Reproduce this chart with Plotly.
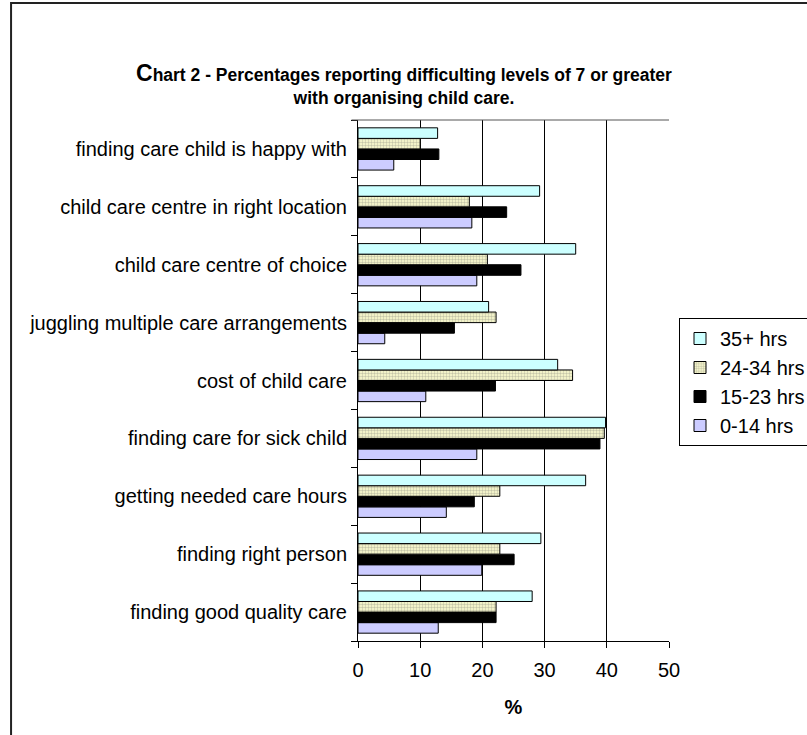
import plotly.graph_objects as go

categories = [
    "finding good quality care",
    "finding right person",
    "getting needed care hours",
    "finding care for sick child",
    "cost of child care",
    "juggling multiple care arrangements",
    "child care centre of choice",
    "child care centre in right location",
    "finding care child is happy with",
]
hrs_0_14 = [12.9, 19.9, 14.2, 19.1, 10.9, 4.3, 19.1, 18.3, 5.75]
hrs_15_23 = [22.2, 25.1, 18.7, 38.9, 22.1, 15.5, 26.2, 23.9, 13.0]
hrs_24_34 = [22.2, 22.8, 22.8, 39.6, 34.5, 22.2, 20.8, 17.9, 10.0]
hrs_35_plus = [28.0, 29.4, 36.6, 39.8, 32.1, 21.0, 35.0, 29.2, 12.8]
x_ticks = [0, 10, 20, 30, 40, 50]

FONT = "Liberation Sans, Arial, sans-serif"
W, H = 807, 735
L, R, T, B = 357.5, 669.0, 120.0, 641.0
pw, ph = R - L, B - T

def px(x):
    return (x - L) / pw

def py(y):
    return (B - y) / ph

fig = go.Figure()
line = dict(color="#000000", width=1)
fig.add_trace(go.Bar(y=categories, x=hrs_0_14, name="0-14 hrs", orientation="h",
                     marker=dict(color="#CCCCFF", line=line)))
fig.add_trace(go.Bar(y=categories, x=hrs_15_23, name="15-23 hrs", orientation="h",
                     marker=dict(color="#000000", line=line)))
fig.add_trace(go.Bar(y=categories, x=hrs_24_34, name="24-34 hrs", orientation="h",
                     marker=dict(color="#E6E6C8", line=line,
                                 pattern=dict(shape=".", fgcolor="#8C8C80", bgcolor="#FFFFD2",
                                              size=3, solidity=0.5))))
fig.add_trace(go.Bar(y=categories, x=hrs_35_plus, name="35+ hrs", orientation="h",
                     marker=dict(color="#CCFFFF", line=line)))

fig.update_layout(
    width=W, height=H,
    margin=dict(l=L, r=W - R, t=T, b=H - B, pad=0, autoexpand=False),
    paper_bgcolor="white", plot_bgcolor="white",
    barmode="group", bargap=0.27, bargroupgap=0,
    font=dict(family=FONT, size=20, color="#000000"),
    showlegend=True,
    legend=dict(xref="container", yref="container",
                x=679 / W, y=1 - 318 / H, xanchor="left", yanchor="top",
                traceorder="reversed", bgcolor="white", bordercolor="#000000",
                borderwidth=1, font=dict(family=FONT, size=20, color="#000000"),
                itemwidth=30),
    xaxis=dict(range=[0, 50], tickvals=x_ticks, ticks="outside", ticklen=6,
               tickcolor="#000000", showgrid=True, gridcolor="#000000", gridwidth=1,
               showline=True, linecolor="#000000", linewidth=1, mirror=False,
               zeroline=False, tickfont=dict(size=20), ticklabelstandoff=5,
               automargin=False,
               title=dict(text="<b>%</b>", font=dict(size=20), standoff=19)),
    yaxis=dict(type="category", ticks="outside", ticklen=6, tickcolor="#000000",
               tickson="boundaries", showline=True, linecolor="#000000", linewidth=1,
               showgrid=False, tickfont=dict(size=20), ticklabelstandoff=6,
               automargin=False),
)

# top border of plot area
fig.add_shape(type="line", xref="paper", yref="paper", x0=px(351), x1=1, y0=1, y1=1,
              line=dict(color="#555555", width=1))
# outer chart frame (left and top edges visible)
fig.add_shape(type="path", xref="paper", yref="paper",
              path=f"M {px(10)} {py(800)} L {px(10)} {py(3)} L {px(900)} {py(3)}",
              line=dict(color="#222222", width=2))

fig.add_annotation(
    xref="paper", yref="paper", x=px(404), y=py(84), xanchor="center", yanchor="middle",
    text="<b><span style='font-size:23px'>C</span>hart 2 - Percentages reporting difficulting levels of 7 or greater"
         "<br>with organising child care.</b>",
    showarrow=False, align="center", font=dict(family=FONT, size=17.5, color="#000000"))

fig.write_html("out.html")
